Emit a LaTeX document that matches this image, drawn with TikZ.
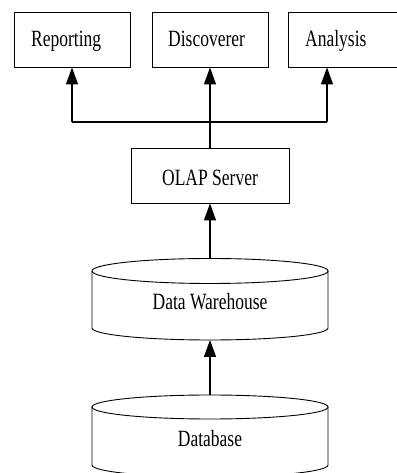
\documentclass[tikz,border=0pt]{standalone}
\usepackage{fontspec}
\setmainfont{Liberation Serif}
\usetikzlibrary{arrows.meta}
\begin{document}
\begin{tikzpicture}[x=1pt,y=1pt,
  box/.style={draw, line width=0.9pt, minimum height=55pt, inner sep=0pt},
  lbl/.style={font=\fontsize{17.5}{20}\selectfont, inner sep=0pt},
  conn/.style={line width=1.2pt},
  arr/.style={conn, -{Triangle[length=17pt,width=12pt]}},
  cyl/.style={line width=0.9pt}]
\useasboundingbox (0,0) rectangle (396,473);

% top boxes
\node[box, minimum width=116pt] (rep) at (72.5,433.5) {};
\node[box, minimum width=116pt] (disc) at (210,433.5) {};
\node[box, minimum width=116pt] (ana) at (346,433.5) {};
\node[lbl, anchor=base west] (reptxt) at (31,426.3) {\scalebox{1}[1.33]{Reporting}};
\node[lbl, anchor=base west] (disctxt) at (168,426.3) {\scalebox{1}[1.33]{Discoverer}};
\node[lbl, anchor=base west] (anatxt) at (305,426.3) {\scalebox{1}[1.33]{Analysis}};

% OLAP server
\node[box, minimum width=158pt] (olap) at (210,297.5) {};
\node[lbl, anchor=base] (olaptxt) at (210,287) {\scalebox{1}[1.33]{OLAP Server}};

% Data warehouse cylinder
\draw[cyl] (210,202) ellipse [x radius=118pt, y radius=12.5pt];
\draw[cyl] (92,202) -- (92,145) arc[start angle=180, end angle=360, x radius=118pt, y radius=12pt] -- (328,202);
\node[lbl, anchor=base] (dw) at (210,163) {\scalebox{1}[1.33]{Data Warehouse}};
\coordinate (dwtop) at (210,214.5);
\coordinate (dwbot) at (210,133);

% Database cylinder
\draw[cyl] (210,66) ellipse [x radius=118pt, y radius=12pt];
\draw[cyl] (92,66) -- (92,8) arc[start angle=180, end angle=360, x radius=118pt, y radius=12pt] -- (328,66);
\node[lbl, anchor=base] (db) at (210,26) {\scalebox{1}[1.33]{Database}};
\coordinate (dbtop) at (210,78);

% connectors
\coordinate (hub) at (210,351);
\coordinate (jl) at (72,351);
\coordinate (jr) at (327,351);
\draw[arr] (dbtop) -- (dwbot);
\draw[arr] (dwtop) -- (olap.south);
\draw[conn] (olap.north) -- (hub);
\draw[conn] (jl) -- (jr);
\draw[arr] (jl) -- (jl |- rep.south);
\draw[arr] (hub) -- (disc.south);
\draw[arr] (jr) -- (jr |- ana.south);
\end{tikzpicture}
\end{document}
